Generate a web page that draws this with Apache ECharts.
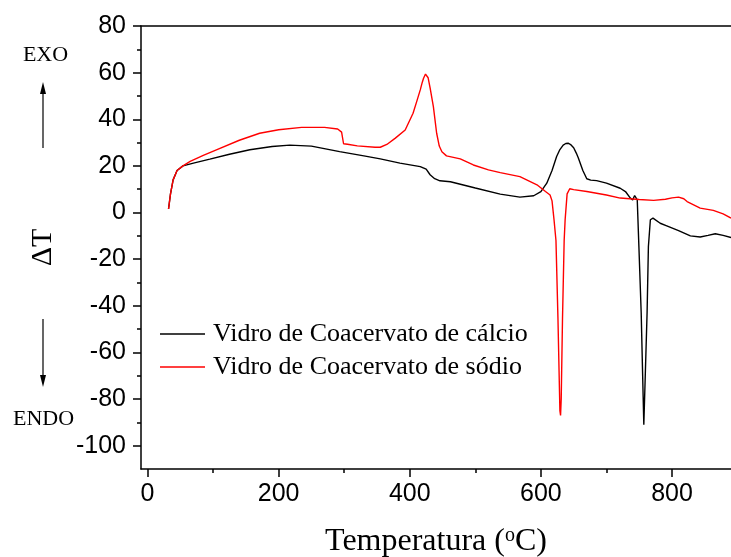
<!DOCTYPE html>
<html>
<head>
<meta charset="utf-8">
<title>DTA</title>
<script src="https://cdn.jsdelivr.net/npm/echarts@6/dist/echarts.min.js"></script>
<style>
    html, body { margin: 0; padding: 0; background: #fff; }
    #main { width: 731px; height: 557px; }
</style>
</head>
<body>
<div id="main"></div>
<script>
// curva do vidro de cálcio (preto)
var tempCalcio = [32, 35, 39, 45, 54, 70, 95, 125, 156, 190, 217, 250, 293, 330, 355, 385, 416, 425, 431, 438,
    446, 462, 500, 538, 568, 589, 600, 609, 617, 624, 629, 634, 638, 642, 646, 650, 654, 657, 664, 670,
    676, 685, 700, 721, 729, 736.5, 740, 743, 745, 747, 749.5, 753, 756, 757, 759, 762, 764, 767, 771, 782,
    792, 810, 828, 843, 855, 866, 878, 890];
var dtCalcio = [1.5, 8, 14, 18, 20, 21.2, 22.9, 25, 26.9, 28.3, 28.9, 28.5, 26.1, 24.3, 23, 21.2, 19.7, 18.6, 16.2, 14.5,
    13.6, 13.2, 10.5, 7.9, 6.6, 7.2, 9, 12.6, 18, 24, 27, 28.9, 29.6, 29.7, 29, 27.8, 25.5, 23.5, 18, 14.5,
    13.9, 13.7, 12.6, 10.4, 9, 6.2, 5.4, 7.3, 6.5, 5.4, -14.6, -43, -79, -91, -72, -43, -14.6, -3.1, -2.4, -4.6,
    -5.7, -7.8, -10, -10.5, -9.8, -9.1, -9.8, -10.7];

// curva do vidro de sódio (vermelho)
var tempSodio = [32, 35, 39, 45, 54, 65, 85, 105, 140, 171, 200, 235, 270, 290, 296, 299, 305, 320, 347, 355,
    365, 378, 393, 405, 411, 416, 419, 421, 424, 426, 428, 431, 436, 441, 445, 449, 456, 477, 497, 520,
    538, 568, 594, 607, 614, 617, 620, 623, 626, 629, 630, 631, 633, 635.5, 637, 640, 644, 650, 670, 700,
    721, 750, 772, 790, 800, 810, 818, 823, 843, 863, 878, 890];
var dtSodio = [1.5, 8, 14, 18, 20, 21.9, 24.5, 26.9, 31, 34, 35.5, 36.5, 36.5, 35.8, 34.5, 29.5, 29.3, 28.6, 28, 28,
    29.2, 31.9, 35.4, 42.6, 48, 52.6, 55.8, 57.6, 59.4, 59.2, 57.8, 53.5, 45.4, 34, 28.5, 26.1, 24.3, 23, 20.4, 18.3,
    17.1, 15.4, 11.9, 9, 7.5, 5, -3, -12, -45, -85, -87, -80, -45, -12, -3, 8, 10.2, 9.8, 9, 7.5,
    6.2, 5.6, 5.2, 5.7, 6.3, 6.6, 5.9, 4.7, 1.9, 0.9, -0.6, -2.4];

// marcas dos eixos
var xMajor = [0, 200, 400, 600, 800];
var xMinor = [100, 300, 500, 700];
var yMajor = [-100, -80, -60, -40, -20, 0, 20, 40, 60, 80];
var yMinor = [-90, -70, -50, -30, -10, 10, 30, 50, 70];

function pairs(t, v) {
    return t.map(function (x, i) { return [x, v[i]]; });
}

var sans = '"Liberation Sans", Arial, sans-serif';
var serif = '"Liberation Serif", "Times New Roman", serif';
var axisStyle = { color: '#000', width: 1.5 };

var chart = echarts.init(document.getElementById('main'));

var option = {
    animation: false,
    backgroundColor: '#fff',
    grid: { left: 141, right: 0, top: 26, bottom: 88, containLabel: false, outerBoundsMode: 'none' },
    legend: {
        orient: 'vertical',
        left: 155,
        top: 316,
        icon: 'rect',
        itemWidth: 45,
        itemHeight: 1.5,
        itemGap: 7,
        textStyle: { fontFamily: serif, fontSize: 26, color: '#000', padding: [0, 0, 0, 3] },
        data: ['Vidro de Coacervato de cálcio', 'Vidro de Coacervato de sódio']
    },
    xAxis: [
        {
            type: 'value', min: -10, max: 890, position: 'bottom',
            axisLine: { show: true, onZero: false, lineStyle: axisStyle },
            axisTick: { show: true, customValues: xMajor, length: 8, lineStyle: axisStyle },
            axisLabel: { customValues: xMajor, margin: 13, fontSize: 25, fontFamily: sans, color: '#000' },
            splitLine: { show: false },
            name: 'Temperatura ({s|o}C)',
            nameLocation: 'middle',
            nameGap: 57,
            nameTextStyle: {
                fontFamily: serif, fontSize: 32, color: '#000',
                rich: { s: { fontFamily: serif, fontSize: 20, color: '#000', verticalAlign: 'top' } }
            }
        },
        {
            type: 'value', min: -10, max: 890, position: 'bottom',
            axisLine: { show: false, onZero: false },
            axisTick: { show: true, customValues: xMinor, length: 4, lineStyle: axisStyle },
            axisLabel: { show: false },
            splitLine: { show: false }
        },
        {
            type: 'value', min: -10, max: 890, position: 'top',
            axisLine: { show: true, onZero: false, lineStyle: axisStyle },
            axisTick: { show: false },
            axisLabel: { show: false },
            splitLine: { show: false }
        }
    ],
    yAxis: [
        {
            type: 'value', min: -110, max: 80, position: 'left',
            axisLine: { show: true, onZero: false, lineStyle: axisStyle },
            axisTick: { show: true, customValues: yMajor, length: 8, lineStyle: axisStyle },
            axisLabel: { customValues: yMajor, margin: 15, fontSize: 25, fontFamily: sans, color: '#000' },
            splitLine: { show: false },
            name: 'ΔT',
            nameLocation: 'middle',
            nameRotate: 90,
            nameGap: 83,
            nameTextStyle: { fontFamily: serif, fontSize: 30, color: '#000' }
        },
        {
            type: 'value', min: -110, max: 80, position: 'left',
            axisLine: { show: false, onZero: false },
            axisTick: { show: true, customValues: yMinor, length: 4, lineStyle: axisStyle },
            axisLabel: { show: false },
            splitLine: { show: false }
        }
    ],
    series: [
        {
            name: 'Vidro de Coacervato de cálcio',
            type: 'line',
            xAxisIndex: 0, yAxisIndex: 0,
            symbol: 'none',
            lineStyle: { color: '#000', width: 1.4 },
            itemStyle: { color: '#000' },
            data: pairs(tempCalcio, dtCalcio)
        },
        {
            name: 'Vidro de Coacervato de sódio',
            type: 'line',
            xAxisIndex: 0, yAxisIndex: 0,
            symbol: 'none',
            lineStyle: { color: '#ff0000', width: 1.4 },
            itemStyle: { color: '#ff0000' },
            data: pairs(tempSodio, dtSodio)
        }
    ],
    graphic: [
        { type: 'text', style: { text: 'EXO', x: 45.5, y: 55, textAlign: 'center', textVerticalAlign: 'middle', fontSize: 22, fontFamily: serif, fill: '#000' } },
        { type: 'text', style: { text: 'ENDO', x: 43.5, y: 419.5, textAlign: 'center', textVerticalAlign: 'middle', fontSize: 22, fontFamily: serif, fill: '#000' } },
        { type: 'line', shape: { x1: 43, y1: 148, x2: 43, y2: 92 }, style: { stroke: '#000', lineWidth: 1.2 } },
        { type: 'polygon', shape: { points: [[43, 82], [40, 94], [46, 94]] }, style: { fill: '#000' } },
        { type: 'line', shape: { x1: 43, y1: 319, x2: 43, y2: 377 }, style: { stroke: '#000', lineWidth: 1.2 } },
        { type: 'polygon', shape: { points: [[43, 387], [40, 375], [46, 375]] }, style: { fill: '#000' } }
    ]
};

chart.setOption(option);
</script>
</body>
</html>
